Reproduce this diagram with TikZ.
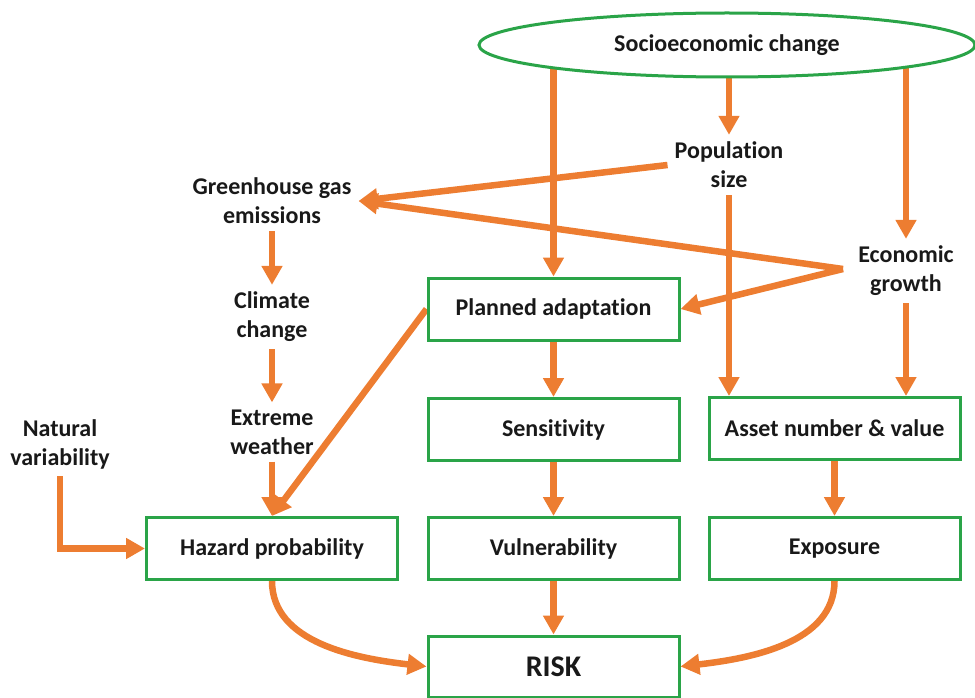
\documentclass[tikz,border=0pt]{standalone}
\usepackage{fontspec}
\setmainfont{Carlito}[Ligatures={NoCommon,NoContextual},RawFeature={-liga;-clig;-dlig}]
\usetikzlibrary{arrows.meta,shapes.geometric,backgrounds}
\definecolor{org}{HTML}{ED7D31}
\definecolor{grn}{HTML}{2AA448}
\begin{document}
\begin{tikzpicture}[x=1pt,y=-1pt,
 txt/.style={font=\fontsize{24}{29}\selectfont\bfseries,text=black!90},
 box/.style={txt,draw=grn,line width=3pt,fill=white,minimum width=251pt,minimum height=62pt,inner sep=0pt},
 lbl/.style={txt,align=center,inner sep=7pt},
 arr/.style={draw=org,line width=6.5pt,-{Triangle[length=19pt,width=20pt]}}]
\useasboundingbox (0,0) rectangle (975,698);
% nodes
\node[txt,ellipse,draw=grn,line width=3pt,fill=white,minimum width=496pt,minimum height=64pt] (soc) at (727,45) {Socioeconomic change};
\node[lbl] (pop) at (729,165) {Population\\size};
\node[lbl] (ghg) at (272,201) {Greenhouse gas\\emissions};
\node[lbl] (cc) at (272,317) {Climate\\change};
\node[lbl] (ew) at (272,432) {Extreme\\weather};
\node[lbl] (nv) at (60,444) {Natural\\variability};
\node[lbl] (eg) at (906,271) {Economic\\growth};
\node[box] (pa) at (553.5,309) {Planned adaptation};
\node[box] (sens) at (553.5,429.5) {Sensitivity};
\node[box] (asset) at (834.5,428.5) {Asset number \& value};
\node[box] (haz) at (272,548.5) {Hazard probability};
\node[box] (vul) at (553.5,548.5) {Vulnerability};
\node[box] (exp) at (834.5,548.5) {Exposure};
\node[box,minimum height=61pt,font=\fontsize{30}{36}\selectfont\bfseries] (risk) at (553.5,666.5) {RISK};
\coordinate (egp) at (843,269);
% connectors
\begin{scope}[on background layer]
\draw[arr] (soc.center -| pa.north) -- (pa.north);
\draw[arr] (soc.center -| pop.north) -- (pop.north);
\draw[arr] (soc.center -| eg.north) -- (eg.north);
\draw[arr] (pop.south) -- (pop.south |- asset.north);
\draw[arr] (eg.south) -- (eg.south |- asset.north);
\draw[arr] (pop.west) -- (ghg.east);
\draw[arr] (egp) -- (ghg.east);
\draw[arr] (egp) -- (pa.east);
\draw[arr] (ghg.south) -- (cc.north);
\draw[arr] (cc.south) -- (ew.north);
\draw[arr] (ew.south) -- (haz.north);
\draw[arr] (pa.west) -- (haz.north);
\draw[arr] (nv.south) |- (haz.west);
\draw[arr] (pa.south) -- (sens.north);
\draw[arr] (sens.south) -- (vul.north);
\draw[arr] (vul.south) -- (risk.north);
\draw[arr] (asset.south) -- (exp.north);
\draw[arr] (haz.south) .. controls +(0,62) and +(-70,-8) .. (risk.west);
\draw[arr] (exp.south) .. controls +(0,62) and +(70,-8) .. (risk.east);
\end{scope}
\end{tikzpicture}
\end{document}
